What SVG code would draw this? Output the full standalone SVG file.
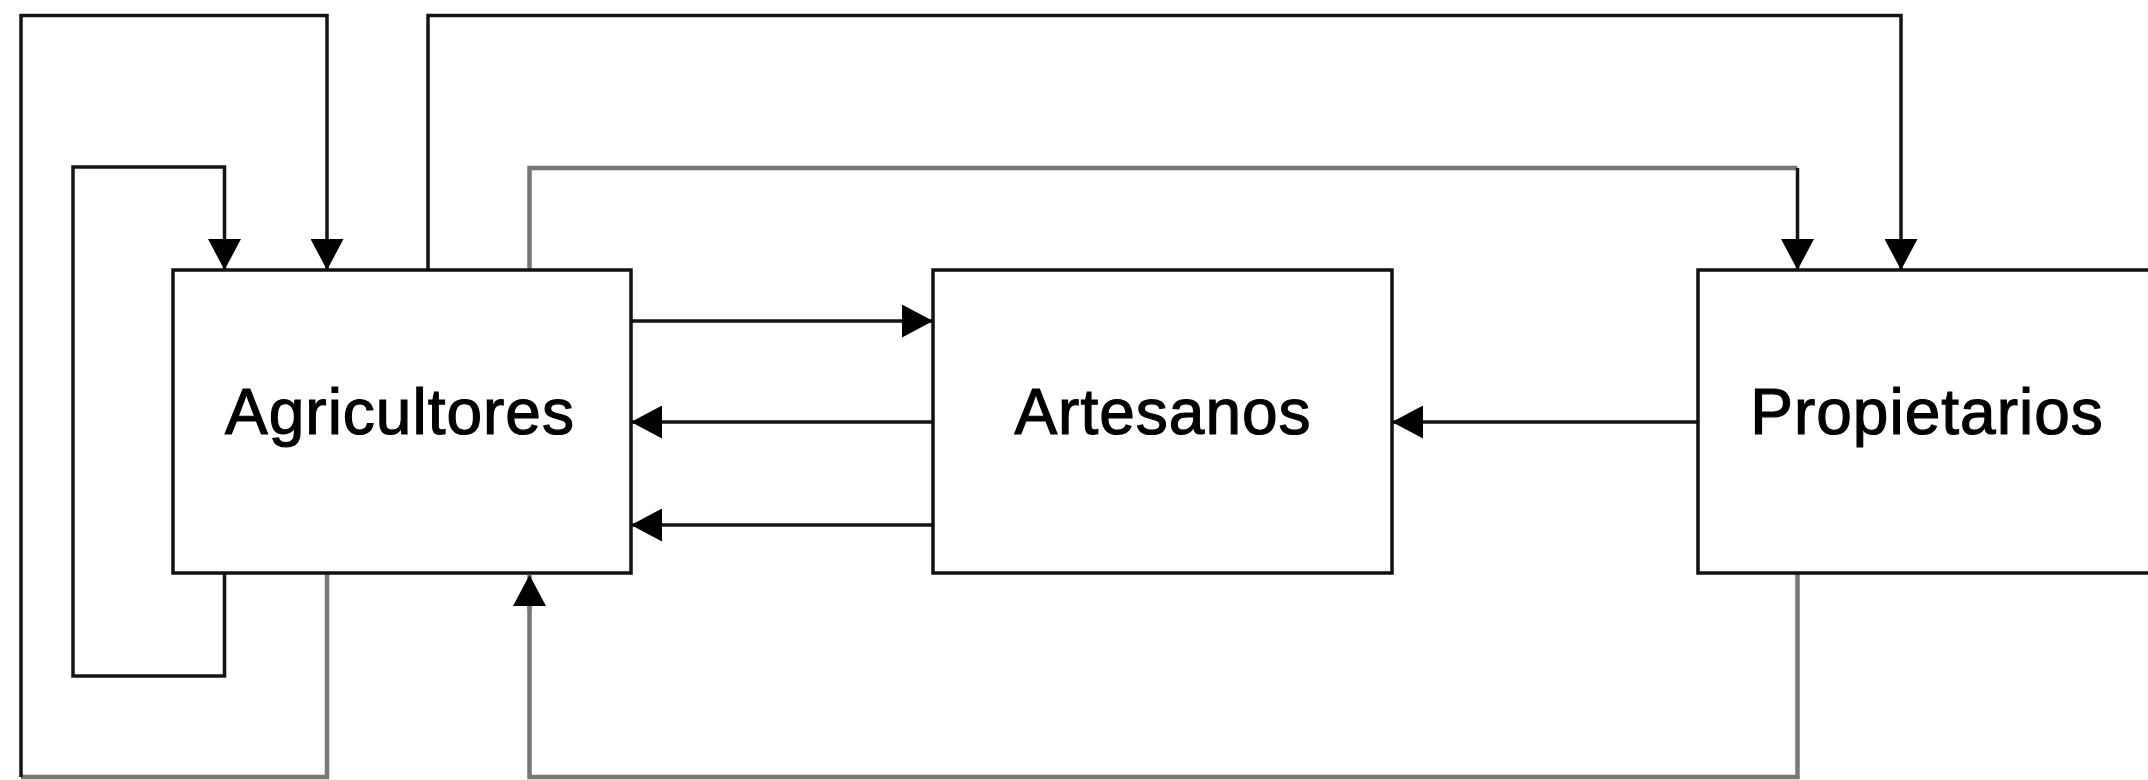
<svg xmlns="http://www.w3.org/2000/svg" width="2148" height="780" viewBox="0 0 2148 780">
  <style>
    .box { fill: #ffffff; stroke: #111111; stroke-width: 3.5; }
    .lbl { font-family: "Liberation Sans", Arial, sans-serif; font-size: 64px; fill: #000000; stroke: #000000; stroke-width: 1.2; text-anchor: middle; letter-spacing: 1px; }
    .dk { fill: none; stroke: #141414; stroke-width: 3.5; }
    .gr { fill: none; stroke: #777777; stroke-width: 4.5; }
  </style>
  <defs>
    <marker id="arr" markerUnits="userSpaceOnUse" markerWidth="33" markerHeight="33" refX="31" refY="16.5" orient="auto">
      <path d="M0,0 L31,16.5 L0,33 Z" fill="#000000"/>
    </marker>
  </defs>
  <rect width="2148" height="780" fill="#ffffff"/>

  <g id="connectors">
    <!-- self loop inner -->
    <path class="dk" d="M224.5,573 V676 H73 V167 H224.5 V270" marker-end="url(#arr)"/>
    <!-- self loop outer -->
    <path class="gr" d="M327,573 V777 H21"/>
    <path class="dk" d="M21,777 V15.5 H327 V270" marker-end="url(#arr)"/>
    <!-- Agricultores to Propietarios (top) -->
    <path class="dk" d="M428,270 V15.5 H1901 V270" marker-end="url(#arr)"/>
    <!-- Agricultores to Propietarios (second) -->
    <path class="gr" d="M529.5,270 V168 H1797.5"/>
    <path class="dk" d="M1797.5,168 V270" marker-end="url(#arr)"/>
    <!-- Agricultores to Artesanos -->
    <path class="dk" d="M631,321 H933" marker-end="url(#arr)"/>
    <!-- Artesanos to Agricultores -->
    <path class="dk" d="M933,422 H631" marker-end="url(#arr)"/>
    <path class="dk" d="M933,525 H631" marker-end="url(#arr)"/>
    <!-- Propietarios to Artesanos -->
    <path class="dk" d="M1698,422 H1392" marker-end="url(#arr)"/>
    <!-- Propietarios to Agricultores (bottom) -->
    <path class="gr" d="M1797.5,573 V777 H529.5 V600"/>
    <path class="gr" d="M529.5,610 V575" marker-end="url(#arr)"/>
  </g>

  <g id="agricultores">
    <rect class="box" x="173" y="270" width="458" height="303"/>
    <text class="lbl" x="400" y="434">Agricultores</text>
  </g>
  <g id="artesanos">
    <rect class="box" x="933" y="270" width="459" height="303"/>
    <text class="lbl" x="1163" y="434">Artesanos</text>
  </g>
  <g id="propietarios">
    <rect class="box" x="1698" y="270" width="459" height="303"/>
    <text class="lbl" x="1927" y="434">Propietarios</text>
  </g>
</svg>
